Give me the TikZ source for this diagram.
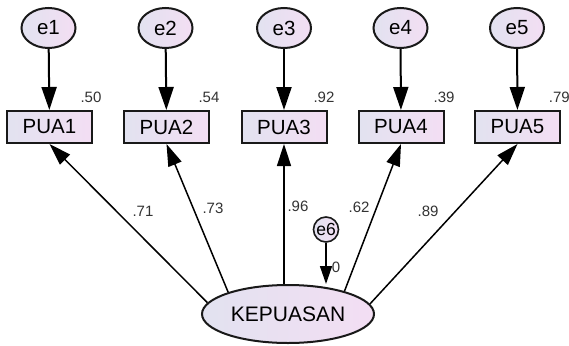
\documentclass[tikz,border=0pt]{standalone}
\usepackage{fontspec}
\setmainfont{Liberation Sans}
\usetikzlibrary{arrows.meta,shapes.geometric}
\definecolor{lc}{RGB}{226,226,240}
\definecolor{rc}{RGB}{243,222,243}
\tikzset{
  obs/.style={draw=black!90, line width=2pt, left color=lc, right color=rc, minimum width=85pt, minimum height=32pt, inner sep=0pt, font=\fontsize{20.5}{22}\selectfont},
  err/.style={ellipse, draw=black!90, line width=2pt, left color=lc, right color=rc, minimum width=54pt, minimum height=40pt, inner sep=0pt, font=\fontsize{20.5}{22}\selectfont},
  lat/.style={ellipse, draw=black!90, line width=2pt, left color=lc, right color=rc, minimum width=172pt, minimum height=58pt, inner sep=0pt, font=\fontsize{21}{22}\selectfont},
  errs/.style={circle, draw=black!90, line width=1.6pt, left color=lc, right color=rc, minimum size=25pt, inner sep=0pt, font=\fontsize{17.5}{18}\selectfont},
  earr/.style={line width=2pt, -{Triangle[length=23pt,width=15pt]}},
  karr/.style={line width=1.5pt, -{Triangle[length=22pt,width=14pt]}},
  sarr/.style={line width=1.5pt, -{Triangle[length=18pt,width=12pt]}},
  lab/.style={inner sep=0pt, font=\fontsize{15}{16}\selectfont, text=black!80},
}
\begin{document}
\begin{tikzpicture}[x=1pt,y=-1pt]
\useasboundingbox[fill=white] (0,0) rectangle (569,345);
\node[err] (e1) at (48.5,28) {e1};
\node[err] (e2) at (165.5,28) {e2};
\node[err] (e3) at (284,28) {e3};
\node[err] (e4) at (400.5,28) {e4};
\node[err] (e5) at (517,28) {e5};
\node[obs] (p1) at (49.5,127) {PUA1};
\node[obs] (p2) at (166.5,127) {PUA2};
\node[obs] (p3) at (284,127) {PUA3};
\node[obs] (p4) at (401,127) {PUA4};
\node[obs] (p5) at (517.5,127) {PUA5};
\node[lat] (k) at (288,314) {KEPUASAN};
\node[errs] (e6) at (326,229.5) {e6};
\draw[earr] (e1) -- (p1);
\draw[earr] (e2) -- (p2);
\draw[earr] (e3) -- (p3);
\draw[earr] (e4) -- (p4);
\draw[earr] (e5) -- (p5);
\draw[karr] (k.172) -- (p1.south);
\draw[karr] (k.160) -- (p2.south);
\draw[karr] (k.north -| p3.south) -- (p3.south);
\draw[karr] (k.22) -- (p4.south);
\draw[karr] (k.7.8) -- (p5.south);
\draw[sarr] (e6) -- (e6 |- k.north);
\node[lab] (r1) at (91,97) {.50};
\node[lab] (r2) at (209,97) {.54};
\node[lab] (r3) at (324,97) {.92};
\node[lab] (r4) at (444,97) {.39};
\node[lab,anchor=east] (r5) at (570,97) {.79};
\node[lab] (l1) at (143,211) {.71};
\node[lab] (l2) at (213,208) {.73};
\node[lab] (l3) at (298,206) {.96};
\node[lab] (l4) at (359,207) {.62};
\node[lab] (l5) at (428,211) {.89};
\node[lab] (l6) at (336,267) {0};
\end{tikzpicture}
\end{document}
